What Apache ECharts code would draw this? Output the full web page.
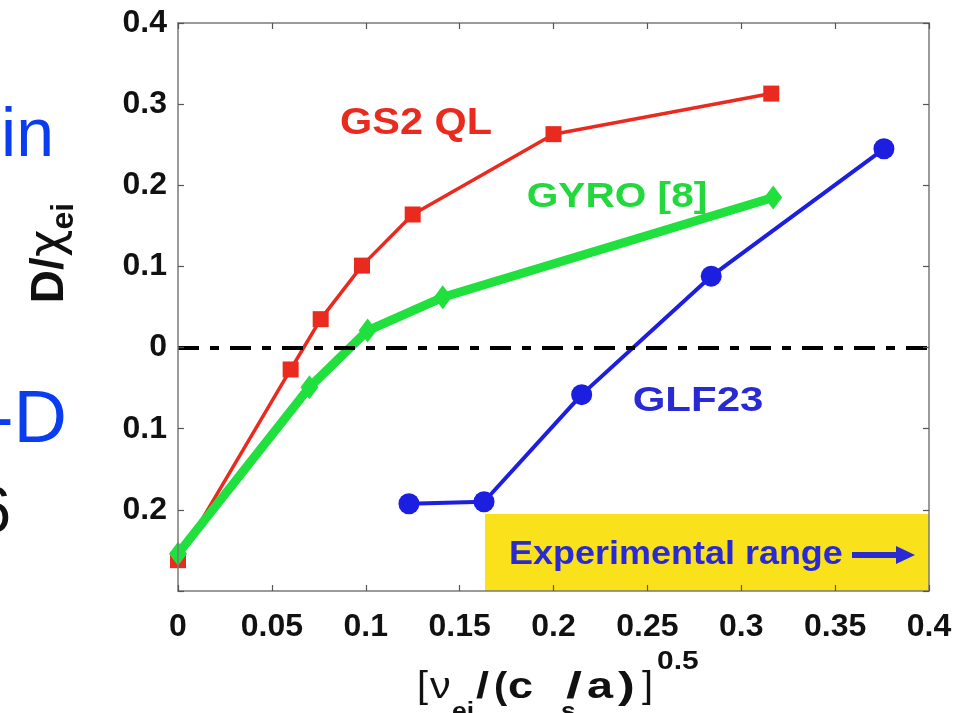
<!DOCTYPE html>
<html>
<head>
<meta charset="utf-8">
<script src="https://cdn.jsdelivr.net/npm/echarts@6/dist/echarts.min.js"></script>
<style>
  html, body { margin: 0; padding: 0; background: #fff; }
  #chart { width: 971px; height: 713px; }
</style>
</head>
<body>
<div id="chart"></div>
<script>
// D/chi_ei versus collisionality for three transport models
const gs2X   = [0, 0.060, 0.076, 0.098, 0.125, 0.200, 0.316];
const gs2Y   = [-0.262, -0.027, 0.035, 0.101, 0.164, 0.263, 0.313];
const gyroX  = [0, 0.070, 0.101, 0.141, 0.317];
const gyroY  = [-0.254, -0.049, 0.021, 0.062, 0.185];
const glfX   = [0.123, 0.163, 0.215, 0.284, 0.376];
const glfY   = [-0.1925, -0.190, -0.058, 0.088, 0.245];

// y tick labels as printed (the lower ones carry no sign)
const yTickValues = [-0.3, -0.2, -0.1, 0, 0.1, 0.2, 0.3, 0.4];
const yTickText   = ['', '0.2', '0.1', '0', '0.1', '0.2', '0.3', '0.4'];

// experimental range band: x start/end, y bottom/top
const expRangeX = [0.1635, 0.4];
const expRangeY = [-0.3, -0.205];

const pairs = (xs, ys) => xs.map((x, i) => [x, ys[i]]);

const FONT = '"Liberation Sans", Arial, Helvetica, sans-serif';
const RED = '#ea2a1e', GREEN = '#1fe03c', BLUE = '#1c1ee0';
const TXT_BLUE = '#2a2ad4';

const chart = echarts.init(document.getElementById('chart'), null, { renderer: 'canvas' });

const axisLine = { show: true, onZero: false, lineStyle: { color: '#7a7a7a', width: 1.5 } };
const axisTick = { show: true, inside: true, length: 6, lineStyle: { color: '#555', width: 1.2 } };
const tickFont = { fontFamily: FONT, fontWeight: 'bold', fontSize: 32, color: '#111' };

// small helper for stretched annotation text
const label = (text, x, y, font, fill, opts = {}) => ({
  type: 'text', x, y, z: 10, scaleX: opts.scaleX || 1, rotation: opts.rotation || 0,
  style: Object.assign({ text, font, fill, align: opts.align || 'left', verticalAlign: opts.valign || 'bottom' }, opts.style || {})
});

const TITLE_B = 'bold 36px ' + FONT;
const TITLE_SUB = 'bold 24px ' + FONT;

chart.setOption({
  animation: false,
  backgroundColor: '#ffffff',
  grid: { left: 178, top: 23, right: 42, bottom: 122, containLabel: false },
  xAxis: [
    {
      type: 'value', min: 0, max: 0.4, interval: 0.05, position: 'bottom', z: 5,
      axisLine, axisTick, splitLine: { show: false },
      axisLabel: Object.assign({ margin: 20 }, tickFont)
    },
    {
      type: 'value', min: 0, max: 0.4, interval: 0.05, position: 'top', z: 5,
      axisLine, axisTick, splitLine: { show: false }, axisLabel: { show: false }
    }
  ],
  yAxis: [
    {
      type: 'value', min: -0.3, max: 0.4, interval: 0.1, position: 'left', z: 5,
      axisLine, axisTick, splitLine: { show: false },
      axisLabel: Object.assign({
        margin: 11,
        formatter: v => {
          const i = yTickValues.findIndex(t => Math.abs(t - v) < 1e-6);
          return i >= 0 ? yTickText[i] : '';
        }
      }, tickFont)
    },
    {
      type: 'value', min: -0.3, max: 0.4, interval: 0.1, position: 'right', z: 5,
      axisLine, axisTick, splitLine: { show: false }, axisLabel: { show: false }
    }
  ],
  series: [
    {
      // reference line at zero and the experimental band
      type: 'line', data: [], z: 1, silent: true,
      markLine: {
        silent: true, symbol: ['none', 'none'], label: { show: false },
        lineStyle: { color: '#000', width: 4, type: [21, 11, 9, 11] },
        data: [{ yAxis: 0 }]
      },
      markArea: {
        silent: true,
        itemStyle: { color: '#f9e21c' },
        data: [[{ coord: [expRangeX[0], expRangeY[1]] }, { coord: [expRangeX[1], expRangeY[0]] }]]
      }
    },
    {
      name: 'GS2 QL', type: 'line', z: 3,
      data: pairs(gs2X, gs2Y),
      symbol: 'rect', symbolSize: 16,
      lineStyle: { color: RED, width: 3.5 },
      itemStyle: { color: RED }
    },
    {
      name: 'GYRO [8]', type: 'line', z: 4,
      data: pairs(gyroX, gyroY),
      symbol: 'diamond', symbolSize: [18, 24],
      lineStyle: { color: GREEN, width: 9 },
      itemStyle: { color: GREEN }
    },
    {
      name: 'GLF23', type: 'line', z: 3,
      data: pairs(glfX, glfY),
      symbol: 'circle', symbolSize: 21,
      lineStyle: { color: BLUE, width: 4 },
      itemStyle: { color: BLUE }
    }
  ],
  graphic: [
    // fragments of neighbouring slide text
    label('in', 54, 171, '68px ' + FONT, '#0a3cf0', { align: 'right' }),
    label('-D', 67, 459, '74px ' + FONT, '#0a3cf0', { align: 'right' }),
    label('6', 11, 546, '64px ' + FONT, '#111', { align: 'right' }),

    // series annotations
    label('GS2 QL', 416, 124, 'bold 36px ' + FONT, RED, { align: 'center', valign: 'middle', scaleX: 1.15 }),
    label('GYRO [8]', 617, 197, 'bold 35px ' + FONT, '#22d83c', { align: 'center', valign: 'middle', scaleX: 1.16 }),
    label('GLF23', 698, 401, 'bold 35px ' + FONT, TXT_BLUE, { align: 'center', valign: 'middle', scaleX: 1.2 }),
    label('Experimental range', 509, 555, 'bold 33px ' + FONT, TXT_BLUE, { valign: 'middle', scaleX: 1.09 }),
    { type: 'line', z: 10, shape: { x1: 852, y1: 555, x2: 900, y2: 555 }, style: { stroke: TXT_BLUE, lineWidth: 6 } },
    { type: 'polygon', z: 10, shape: { points: [[896, 546], [915, 555], [896, 564]] }, style: { fill: TXT_BLUE } },

    // y axis title: D/chi_ei, rotated
    {
      type: 'text', x: 50, y: 253, rotation: Math.PI / 2, z: 10,
      style: {
        text: 'D/{g|χ}{s|ei}', align: 'center', verticalAlign: 'middle',
        font: 'bold 46px ' + FONT, fill: '#111',
        rich: {
          g: { font: '48px "DejaVu Sans", sans-serif', fill: '#111' },
          s: { font: 'bold 32px ' + FONT, fill: '#111', padding: [28, 0, 0, 0] }
        }
      }
    },

    // x axis title: [ nu_ei / (c_s/a) ]^0.5
    label('[', 417, 705, '36px ' + FONT, '#111', { scaleX: 1.1 }),
    label('ν', 430, 706, '36px ' + FONT, '#111', { scaleX: 1.15 }),
    label('ei', 452, 724, TITLE_SUB, '#111', { scaleX: 1.1 }),
    label('/', 476, 706, TITLE_B, '#111', { scaleX: 1.3 }),
    label('(', 494, 706, TITLE_B, '#111', { scaleX: 1.1 }),
    label('c', 508, 706, TITLE_B, '#111', { scaleX: 1.25 }),
    label('s', 561, 724, TITLE_SUB, '#111', { scaleX: 1.1 }),
    label('/', 566, 706, TITLE_B, '#111', { scaleX: 1.6 }),
    label('a', 587, 706, TITLE_B, '#111', { scaleX: 1.3 }),
    label(')', 618, 706, TITLE_B, '#111', { scaleX: 1.4 }),
    label(']', 642, 705, '36px ' + FONT, '#111', { scaleX: 1.1 }),
    label('0.5', 657, 675, 'bold 26px ' + FONT, '#111', { scaleX: 1.15 })
  ]
});
</script>
</body>
</html>
